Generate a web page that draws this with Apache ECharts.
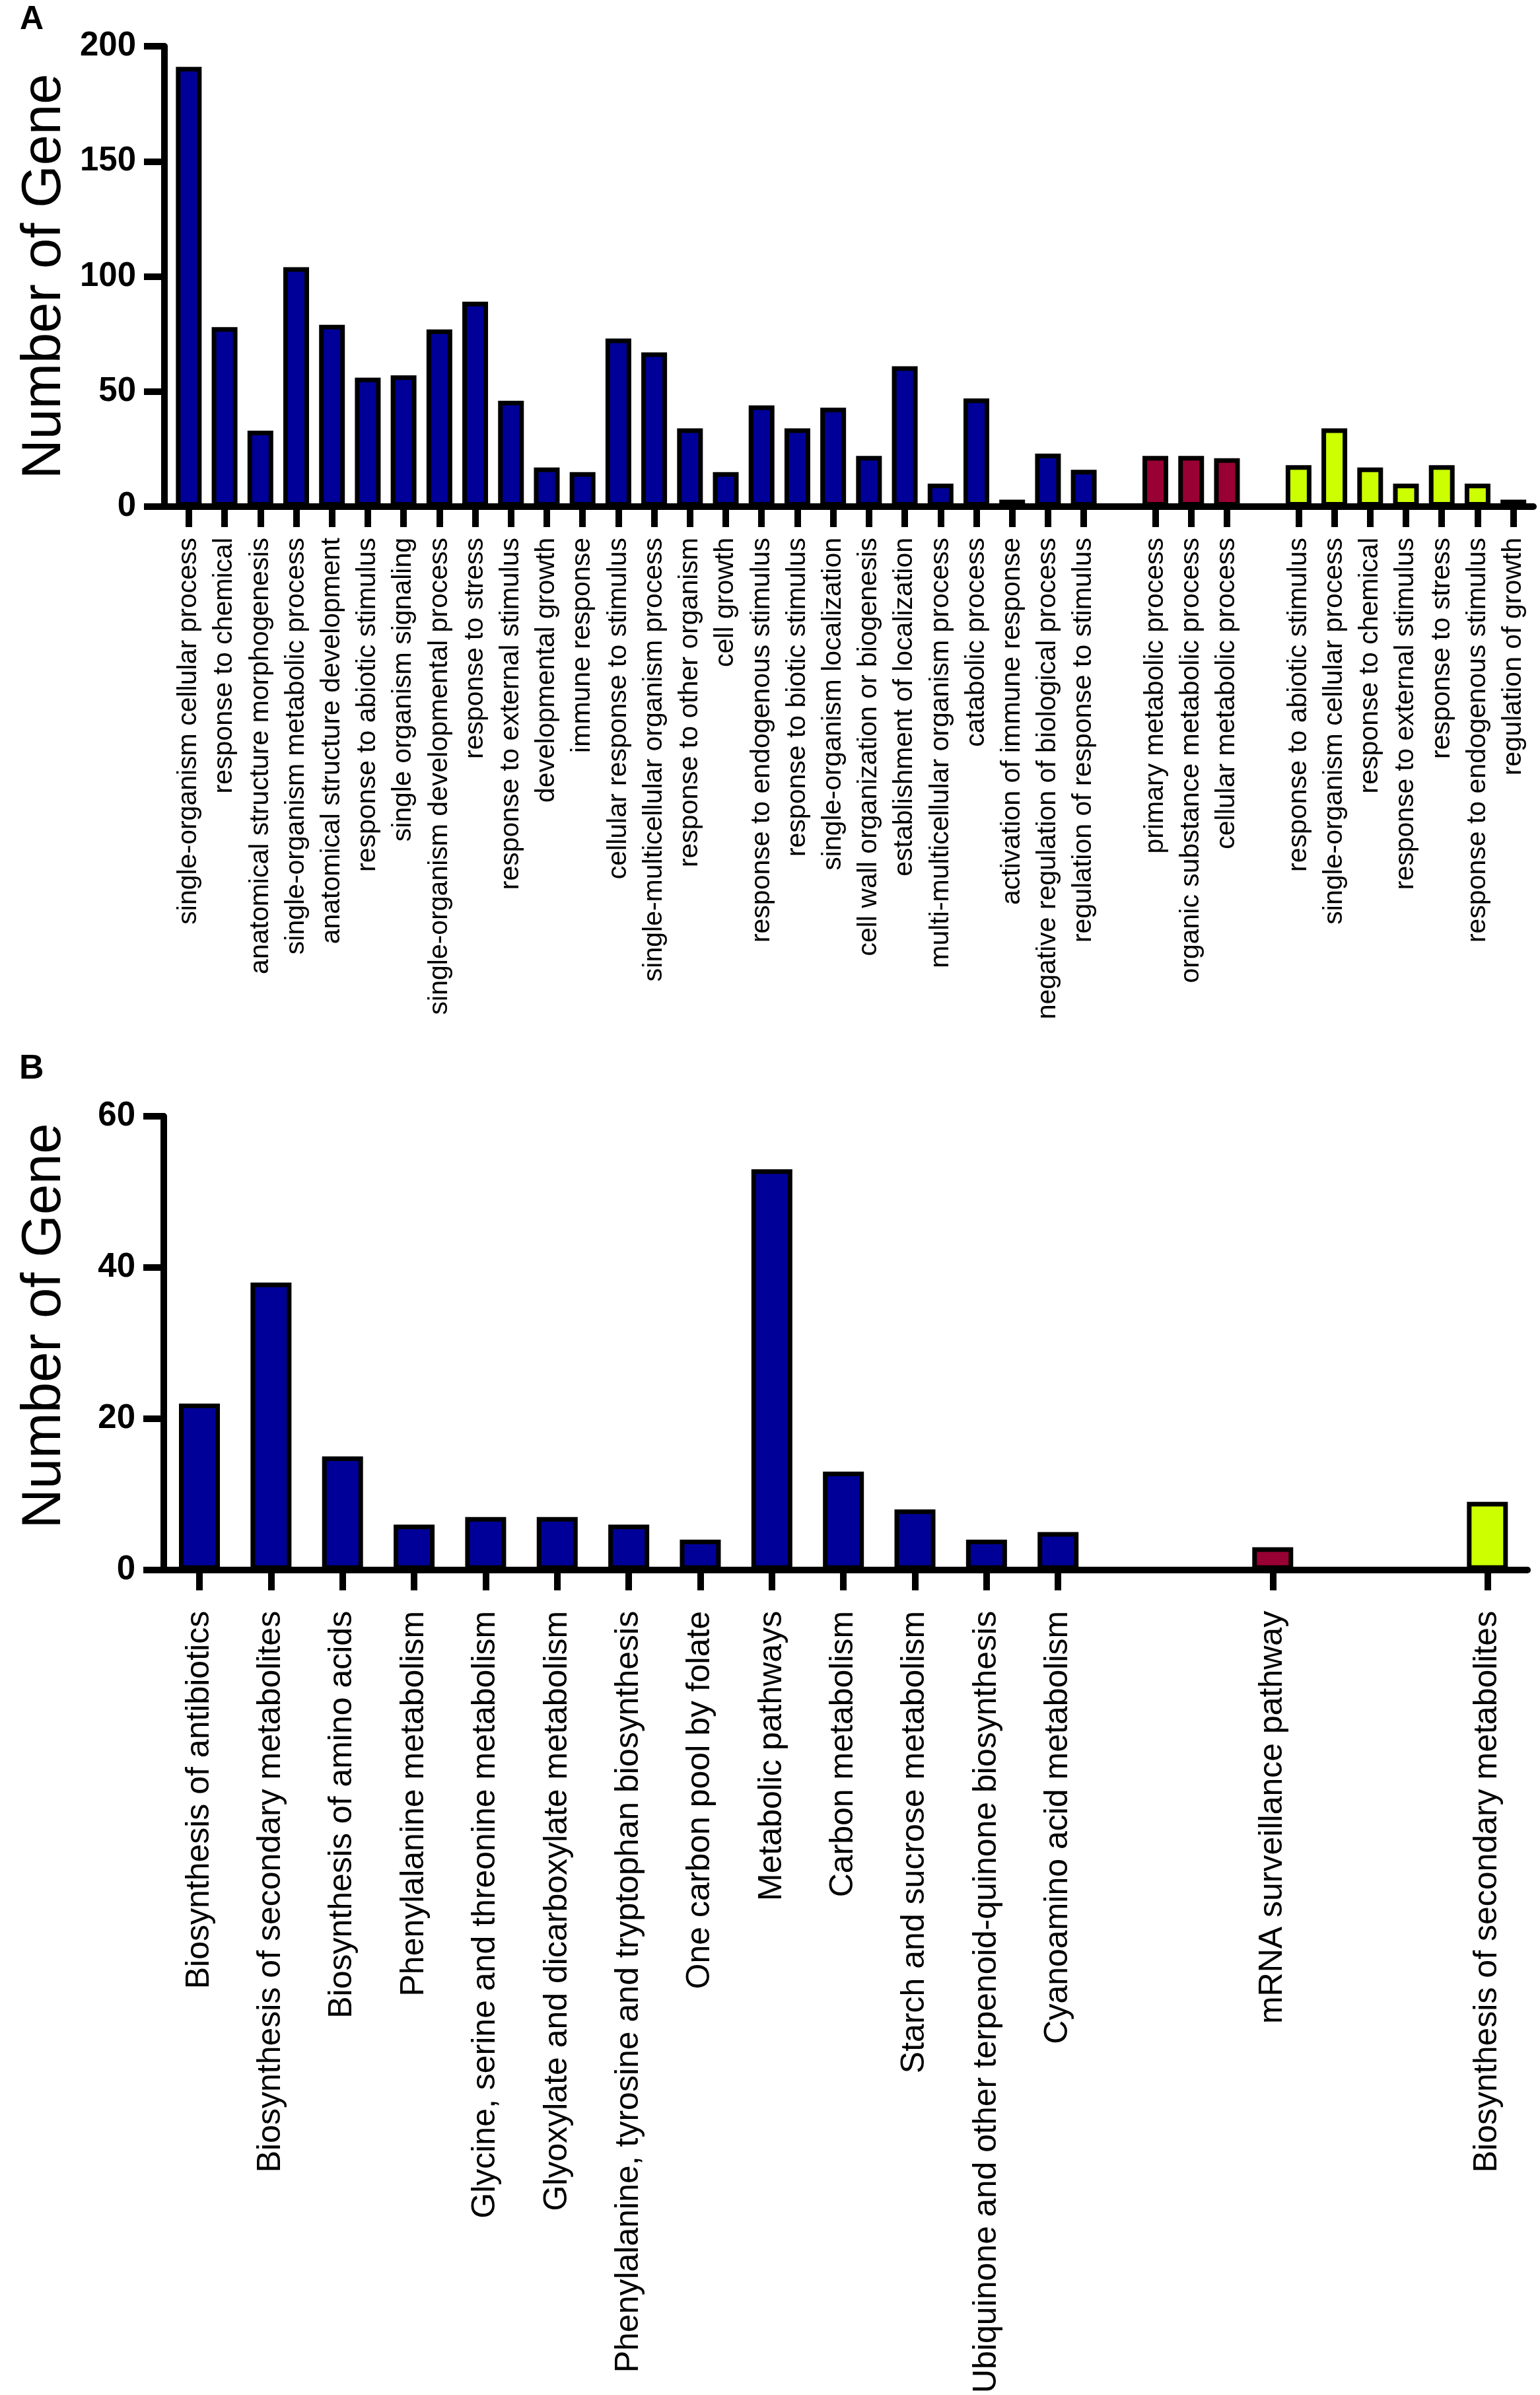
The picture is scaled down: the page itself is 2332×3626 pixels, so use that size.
<!DOCTYPE html>
<html><head><meta charset="utf-8">
<script src="https://cdn.jsdelivr.net/npm/echarts@6/dist/echarts.min.js"></script>
<style>html,body{margin:0;padding:0;background:#fff}#c{width:2332px;height:3626px}</style>
</head><body><div id="c"></div>
<script>
// ---- Panel A (GO terms) ----
const goBlueNames = ['single-organism cellular process','response to chemical','anatomical structure morphogenesis','single-organism metabolic process','anatomical structure development','response to abiotic stimulus','single organism signaling','single-organism developmental process','response to stress','response to external stimulus','developmental growth','immune response','cellular response to stimulus','single-multicellular organism process','response to other organism','cell growth','response to endogenous stimulus','response to biotic stimulus','single-organism localization','cell wall organization or biogenesis','establishment of localization','multi-multicellular organism process','catabolic process','activation of immune response','negative regulation of biological process','regulation of response to stimulus'];
const goBlueValues = [191,78,33,104,79,56,57,77,89,46,17,15,73,67,34,15,44,34,43,22,61,10,47,3,23,16];
const goRedNames = ['primary metabolic process','organic substance metabolic process','cellular metabolic process'];
const goRedValues = [22,22,21];
const goYellowNames = ['response to abiotic stimulus','single-organism cellular process','response to chemical','response to external stimulus','response to stress','response to endogenous stimulus','regulation of growth'];
const goYellowValues = [18,34,17,10,18,10,3];
const goTicks = [0,50,100,150,200];

// ---- Panel B (KEGG pathways) ----
const keggBlueNames = ['Biosynthesis of antibiotics','Biosynthesis of secondary metabolites','Biosynthesis of amino acids','Phenylalanine metabolism','Glycine, serine and threonine metabolism','Glyoxylate and dicarboxylate metabolism','Phenylalanine, tyrosine and tryptophan biosynthesis','One carbon pool by folate','Metabolic pathways','Carbon metabolism','Starch and sucrose metabolism','Ubiquinone and other terpenoid-quinone biosynthesis','Cyanoamino acid metabolism'];
const keggBlueValues = [22,38,15,6,7,7,6,4,53,13,8,4,5];
const keggRedNames = ['mRNA surveillance pathway'];
const keggRedValues = [3];
const keggYellowNames = ['Biosynthesis of secondary metabolites'];
const keggYellowValues = [9];
const keggTicks = [0,20,40,60];

const BLUE = '#000099', RED = '#990033', YELLOW = '#CCFF00';
const FONT = '"Liberation Sans", Arial, Helvetica, sans-serif';

function layout(groups, gap) {
  let pos = 0; const nameAt = {}; const ticks = []; const series = [];
  groups.forEach((g, gi) => {
    if (gi > 0) pos += gap;
    const pts = g.values.map((v, i) => { nameAt[pos + i] = g.names[i]; ticks.push(pos + i); return [pos + i, v]; });
    series.push({ color: g.color, data: pts });
    pos += g.values.length;
  });
  return { nameAt, ticks, series, last: pos - 1 };
}

const A = layout([
  { names: goBlueNames, values: goBlueValues, color: BLUE },
  { names: goRedNames, values: goRedValues, color: RED },
  { names: goYellowNames, values: goYellowValues, color: YELLOW }
], 1);
const B = layout([
  { names: keggBlueNames, values: keggBlueValues, color: BLUE },
  { names: keggRedNames, values: keggRedValues, color: RED },
  { names: keggYellowNames, values: keggYellowValues, color: YELLOW }
], 2);

function xAxis(L, gi, minV, fs, margin) {
  return {
    type: 'value', gridIndex: gi, min: minV, max: L.last + 0.56,
    splitLine: { show: false },
    axisLine: { show: true, onZero: false, lineStyle: { color: '#000', width: 10 } },
    axisTick: { show: true, length: 31, lineStyle: { color: '#000', width: 10 }, customValues: L.ticks },
    axisLabel: {
      show: true, rotate: 90, margin: margin, customValues: L.ticks,
      formatter: v => L.nameAt[Math.round(v)] || '',
      fontFamily: FONT, fontSize: fs, color: '#000'
    }
  };
}
function yAxis(ticks, gi, namePad) {
  return {
    type: 'value', gridIndex: gi, min: ticks[0], max: ticks[ticks.length - 1],
    interval: ticks[1] - ticks[0],
    name: 'Number of Gene', nameLocation: 'middle', nameRotate: 90, nameGap: 138,
    nameTextStyle: { fontFamily: FONT, fontSize: 83, color: '#000', padding: namePad },
    splitLine: { show: false },
    axisLine: { show: true, onZero: false, lineStyle: { color: '#000', width: 10 } },
    axisTick: { show: true, length: 31, lineStyle: { color: '#000', width: 10 } },
    axisLabel: { fontFamily: FONT, fontSize: 51, fontWeight: 'bold', color: '#000', margin: 43 }
  };
}
function bars(L, gi, w) {
  return L.series.map(s => ({
    type: 'bar', xAxisIndex: gi, yAxisIndex: gi, stack: 'p' + gi, barWidth: w,
    data: s.data,
    itemStyle: { color: s.color, borderColor: '#000', borderWidth: 7 },
    silent: true
  }));
}

const chart = echarts.init(document.getElementById('c'), null, { renderer: 'canvas' });
chart.setOption({
  animation: false,
  backgroundColor: '#fff',
  title: [
    { text: 'A', left: 25, top: 0, textStyle: { fontFamily: FONT, fontSize: 50, fontWeight: 'bold', color: '#000' } },
    { text: 'B', left: 24, top: 1588, textStyle: { fontFamily: FONT, fontSize: 52, fontWeight: 'bold', color: '#000' } }
  ],
  grid: [
    { left: 249, right: 10, top: 70, height: 697 },
    { left: 248, right: 19, top: 1690, height: 697 }
  ],
  xAxis: [xAxis(A, 0, -0.68, 41, 47), xAxis(B, 1, -0.4985, 50, 62)],
  yAxis: [yAxis(goTicks, 0, 0), yAxis(keggTicks, 1, [0, 0, 0, 52])],
  series: [].concat(bars(A, 0, 39), bars(B, 1, 62))
});
</script>
</body></html>
